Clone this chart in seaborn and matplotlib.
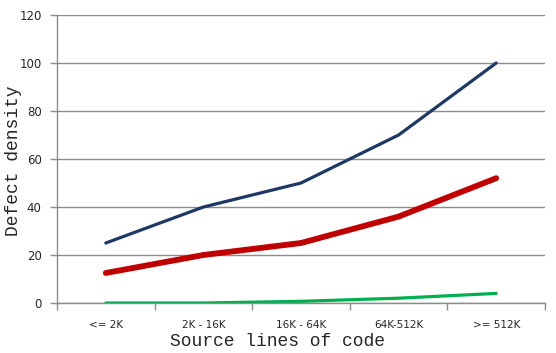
import pandas as pd
import matplotlib
matplotlib.use('Agg')
import matplotlib.pyplot as plt
import seaborn as sns
import numpy as np

# Data
categories = ['<= 2K', '2K - 16K', '16K - 64K', '64K-512K', '>= 512K']
series_a = [25, 40, 50, 70, 100]   # dark blue
series_b = [12.5, 20, 25, 36, 52]  # red
series_c = [0, 0, 0.7, 2, 4]       # green

series_names = ['A', 'B', 'C']
colors = ['#1F3864', '#C00000', '#00B050']
widths = [2.3, 4.2, 2.3]

sns.set_theme(style='white')
plt.rcParams['font.family'] = ['DejaVu Sans']

df = pd.DataFrame({
    'x': list(range(len(categories))) * 3,
    'y': series_a + series_b + series_c,
    'series': [n for n in series_names for _ in categories],
})

fig = plt.figure(figsize=(5.56, 3.53), dpi=100)
ax = fig.add_axes([57 / 556, 1 - 303 / 353, 488 / 556, 288 / 353])

for name, col, lw in zip(series_names, colors, widths):
    sub = df[df['series'] == name]
    sns.lineplot(data=sub, x='x', y='y', ax=ax, color=col, linewidth=lw,
                 solid_capstyle='round', legend=False)

ax.set_xlim(-0.5, len(categories) - 0.5)
ax.set_ylim(0, 120)
ax.set_yticks(np.arange(0, 121, 20))
ax.yaxis.grid(True, color='#8C8C8C', linewidth=1.0)
ax.set_axisbelow(True)

# category boundaries as tick marks, labels centred
ax.set_xticks(np.arange(-0.5, len(categories), 1.0))
ax.set_xticklabels([])
ax.set_xticks(range(len(categories)), minor=True)
ax.set_xticklabels(categories, minor=True, fontsize=7.5)
ax.tick_params(axis='x', which='major', direction='out', length=5, width=1,
               color='#8C8C8C', bottom=True)
ax.tick_params(axis='x', which='minor', length=0, pad=12)
ax.tick_params(axis='y', direction='out', length=5, width=1, color='#8C8C8C',
               left=True, labelsize=8.5, pad=6)

for side in ['top', 'right']:
    ax.spines[side].set_visible(False)
for side in ['left', 'bottom']:
    ax.spines[side].set_color('#8C8C8C')
    ax.spines[side].set_linewidth(1.0)

ax.set_xlabel('Source lines of code', family='Liberation Mono', fontsize=13)
ax.set_ylabel('Defect density', family='Liberation Mono', fontsize=13)
ax.xaxis.set_label_coords((278 - 57) / 488, (303 - 341) / 288, transform=ax.transAxes)
ax.yaxis.set_label_coords((14 - 57) / 488, (303 - 161) / 288, transform=ax.transAxes)
ax.xaxis.label.set_va('center')
ax.yaxis.label.set_va('center')

fig.savefig('out.png', dpi=100)
